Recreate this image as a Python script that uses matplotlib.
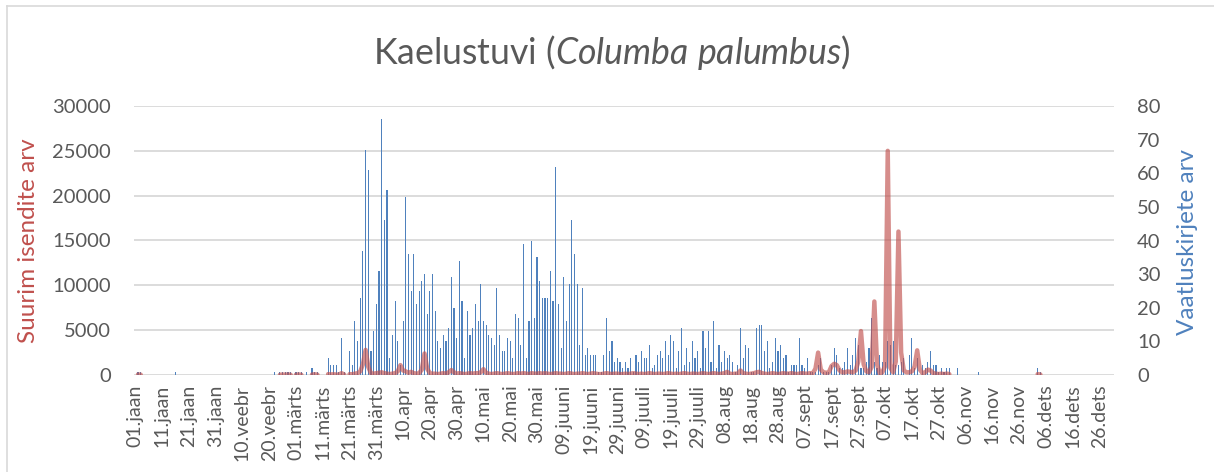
import numpy as np
import matplotlib
matplotlib.use("Agg")
import matplotlib.pyplot as plt
from matplotlib.lines import Line2D

_ = None  # no data that day

# vaatluskirjete arv (right axis), one value per day, leap year
kirjed_jaan = [_, 1, 1, _, _, _, _, _, _, _, _, _, _, _, _, 1, _, _, _, _, _, _, _, _, _, _, _, _, _, _, _]
kirjed_veebr = [_, _, _, _, _, _, _, _, _, _, _, _, _, _, _, _, _, _, _, _, _, 1, _, 1, 1, 1, 1, 1, _]
kirjed_marts = [1, 1, 1, _, 1, _, 2, 1, 1, _, _, _, 5, 3, 3, 3, 1, 11, 1, _, 7, 3, 16, 10, 23, 37, 67, 61, 7, 13, 21]
kirjed_apr = [31, 76, 46, 55, 5, 12, 22, 10, 3, 16, 53, 36, 25, 36, 21, 25, 28, 30, 18, 25, 30, 19, 10, 8, 12, 10, 14, 29, 20, 11]
kirjed_mai = [34, 22, 5, 19, 12, 14, 21, 16, 27, 16, 15, 12, 11, 9, 26, 12, 7, 7, 11, 10, 5, 18, 17, 9, 39, 5, 16, 40, 17, 35, 28]
kirjed_juuni = [23, 23, 23, 31, 22, 62, 21, 8, 29, 16, 27, 46, 36, 27, 9, 26, 6, 8, 6, 6, 6, 1, 1, 6, 17, 7, 10, 4, 5, 4]
kirjed_juuli = [2, 4, 2, 5, 1, 6, 4, 7, 5, 5, 9, 2, 3, 6, 7, 5, 10, 6, 12, 10, 2, 7, 14, 3, 8, 4, 10, 5, 7, 2, 13]
kirjed_aug = [8, 13, 4, 16, 2, 9, 4, 7, 5, 6, 4, 1, 3, 14, 5, 9, 8, 1, 1, 14, 15, 15, 7, 10, 2, 4, 11, 7, 9, 5, 6]
kirjed_sept = [1, 3, 3, 3, 11, 3, 2, 5, 1, 1, 1, 3, 5, 1, 1, 1, 3, 8, 6, 2, 2, 4, 8, 3, 6, 11, 9, 2, 2, 4]
kirjed_okt = [8, 17, 4, 2, 6, 4, 4, 10, 9, 10, 3, 3, 4, 5, _, 6, 11, 2, 5, _, 3, 2, 4, 7, 3, 3, 1, 2, 1, 2, 2]
kirjed_nov = [_, _, 2, _, _, _, _, _, _, _, 1, _, _, _, _, _, _, _, _, _, _, _, _, _, _, _, _, _, _, _]
kirjed_dets = [_, _, 2, 1, _, _, _, _, _, _, _, _, _, _, _, _, _, _, _, _, _, _, _, _, _, _, _, _, _, _, _]

# suurim isendite arv (left axis)
isendid_jaan = [_, 60, 40, _, _, _, _, _, _, _, _, _, _, _, _, 30, _, _, _, _, _, _, _, _, _, _, _, _, _, _, _]
isendid_veebr = [_, _, _, _, _, _, _, _, _, _, _, _, _, _, _, _, _, _, _, _, _, 30, _, 30, 50, 40, 60, 30, _]
isendid_marts = [40, 60, 30, _, 40, _, 50, 80, 40, _, _, _, 100, 60, 80, 50, 40, 200, 60, _,
                 100, 80, 150, 200, 400, 1200, 2800, 900, 200, 150, 200]
isendid_apr = [250, 300, 200, 150, 100, 150, 200, 400, 1100, 500, 400, 250, 350, 200, 150,
               200, 600, 2400, 700, 200, 150, 150, 100, 150, 200, 150, 300, 550, 300, 150]
isendid_mai = [200, 150, 100, 150, 200, 150, 200, 200, 300, 650, 250, 150, 100, 150, 200, 150,
               100, 150, 200, 150, 100, 150, 200, 150, 200, 150, 100, 200, 150, 150, 200]
isendid_juuni = [150, 200, 150, 100, 150, 200, 150, 150, 100, 150, 200, 150, 100, 150, 150,
                 200, 150, 100, 150, 200, 150, 100, 100, 150, 200, 150, 100, 150, 150, 100]
isendid_juuli = [100, 150, 100, 150, 200, 150, 100, 150, 100, 150, 200, 150, 100, 150, 150, 100,
                 150, 200, 150, 100, 150, 100, 150, 200, 150, 100, 150, 150, 100, 150, 200]
isendid_aug = [150, 100, 150, 200, 150, 100, 150, 200, 350, 150, 100, 150, 150, 500, 200, 150,
               100, 150, 200, 300, 350, 200, 150, 100, 150, 200, 150, 100, 150, 200, 150]
isendid_sept = [150, 200, 150, 100, 150, 200, 150, 150, 200, 200, 700, 2500, 600, 300, 250,
                300, 1000, 1250, 1100, 500, 300, 300, 400, 350, 300, 500, 1500, 4900, 1200, 400]
isendid_okt = [300, 900, 8200, 1200, 200, 300, 1000, 25000, 800, 300, 1500, 16000, 2500, 500, 300, 300,
               400, 900, 2750, 600, 200, 300, 600, 500, 200, 150, 100, 150, 100, 150, 100]
isendid_nov = [_, _, 50, _, _, _, _, _, _, _, 30, _, _, _, _, _, _, _, _, _, _, _, _, _, _, _, _, _, _, _]
isendid_dets = [_, _, 100, 60, _, _, _, _, _, _, _, _, _, _, _, _, _, _, _, _, _, _, _, _, _, _, _, _, _, _, _]

tick_labels = ["01.jaan", "11.jaan", "21.jaan", "31.jaan", "10.veebr", "20.veebr", "01.märts",
               "11.märts", "21.märts", "31.märts", "10.apr", "20.apr", "30.apr", "10.mai", "20.mai",
               "30.mai", "09.juuni", "19.juuni", "29.juuni", "09.juuli", "19.juuli", "29.juuli",
               "08.aug", "18.aug", "28.aug", "07.sept", "17.sept", "27.sept", "07.okt", "17.okt",
               "27.okt", "06.nov", "16.nov", "26.nov", "06.dets", "16.dets", "26.dets"]

kirjed = (kirjed_jaan + kirjed_veebr + kirjed_marts + kirjed_apr + kirjed_mai + kirjed_juuni +
          kirjed_juuli + kirjed_aug + kirjed_sept + kirjed_okt + kirjed_nov + kirjed_dets)
isendid = (isendid_jaan + isendid_veebr + isendid_marts + isendid_apr + isendid_mai + isendid_juuni +
           isendid_juuli + isendid_aug + isendid_sept + isendid_okt + isendid_nov + isendid_dets)

k = np.array([np.nan if v is None else v for v in kirjed], dtype=float)
m = np.array([np.nan if v is None else v for v in isendid], dtype=float)
days = np.arange(len(k))

plt.rcParams['font.family'] = ['Lato', 'DejaVu Sans']
plt.rcParams['mathtext.fontset'] = 'custom'
plt.rcParams['mathtext.rm'] = 'Lato'
plt.rcParams['mathtext.it'] = 'Lato:italic'

GREY = '#595959'
RED = '#c0504d'
BLUE = '#4f81bd'

W, H = 1214, 472
fig = plt.figure(figsize=(W / 100, H / 100), dpi=100)
ax = fig.add_axes([134 / W, 97 / H, 980 / W, 269 / H])
ax2 = ax.twinx()

ok = ~np.isnan(k)
ax2.bar(days[ok], k[ok], width=0.42, color=BLUE, linewidth=0)
# red line uses the left scale but sits above the bars
ax2.plot(days, m, color=RED, lw=3.2, alpha=0.65, transform=ax.transData,
         solid_capstyle='round', solid_joinstyle='round')

ax.set_xlim(-0.5, len(k) - 0.5)
ax.set_ylim(0, 30000)
ax2.set_ylim(0, 80)
ax.set_yticks(range(0, 30001, 5000))
ax2.set_yticks(range(0, 81, 10))
ax.set_xticks(range(0, len(k), 10))
ax.set_xticklabels(tick_labels, rotation=90)

ax.grid(axis='y', color='#d9d9d9', lw=1.3)
ax.set_axisbelow(True)
for a in (ax, ax2):
    for s in a.spines.values():
        s.set_visible(False)
ax.tick_params(axis='y', length=0, labelsize=14.5, labelcolor=GREY, pad=16.5)
ax.tick_params(axis='x', length=0, labelsize=14, labelcolor=GREY, pad=7)
ax2.tick_params(axis='y', length=0, labelsize=14.5, labelcolor=GREY, pad=16.5)

fig.text(29 / W, 1 - 241 / H, 'Suurim isendite arv', rotation=90, color=RED,
         ha='center', va='center', fontsize=17.5)
fig.text(1188 / W, 1 - 242 / H, 'Vaatluskirjete arv', rotation=90, color=BLUE,
         ha='center', va='center', fontsize=17.5)
fig.text(612 / W, 1 - 64 / H, r'Kaelustuvi ($\mathit{Columba\ palumbus}$)', color=GREY,
         ha='center', va='baseline', fontsize=25.7)

# chart border (only top and left edges fall inside the picture)
fig.add_artist(Line2D([6.5 / W, 6.5 / W], [0, 1 - 5.5 / H], transform=fig.transFigure,
                      color='#d9d9d9', lw=1.2))
fig.add_artist(Line2D([6.5 / W, 1], [1 - 5.5 / H, 1 - 5.5 / H], transform=fig.transFigure,
                      color='#d9d9d9', lw=1.2))

fig.savefig('out.png', dpi=100)
